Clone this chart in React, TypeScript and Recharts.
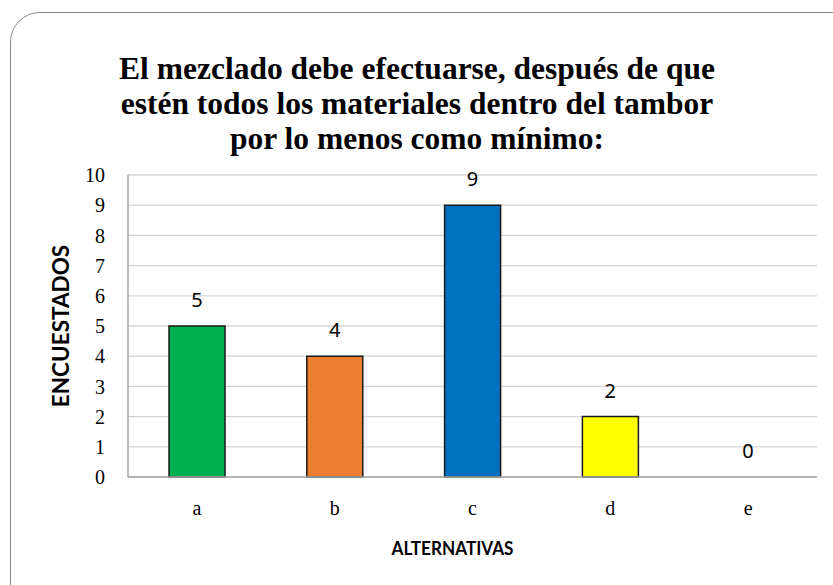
import React from "react";
import { ComposedChart, Bar, Line, XAxis, YAxis, CartesianGrid, Cell, LabelList } from "recharts";

const categories = ["a", "b", "c", "d", "e"];
const values = [5, 4, 9, 2, 0];
const colors = ["#00B050", "#ED7D31", "#0070C0", "#FFFF00", "#A5A5A5"];
const yTicks = [0, 1, 2, 3, 4, 5, 6, 7, 8, 9, 10];
const titleLines = [
  "El mezclado debe efectuarse, después de que",
  "estén todos los materiales dentro del tambor",
  "por lo menos como mínimo:",
];
const xTitle = "ALTERNATIVAS";
const yTitle = "ENCUESTADOS";

const data = categories.map((c, i) => ({ name: c, value: values[i] }));

function XTitle(props: any) {
  const vb = props.viewBox || { x: 128, y: 477, width: 689, height: 108 };
  const cx = vb.x + vb.width / 2 - 20;
  const cy = vb.y + vb.height - 30;
  return (
    <text
      x={cx}
      y={cy}
      textAnchor="middle"
      textLength={122}
      lengthAdjust="spacingAndGlyphs"
      fill="#000"
      fontSize={19.5}
      fontWeight="bold"
      fontFamily="Lato, sans-serif"
    >
      {xTitle}
    </text>
  );
}

export default function App() {
  return (
    <div style={{ position: "fixed", left: 0, top: 0, width: 833, height: 585, overflow: "hidden", background: "#fff" }}>
      <div
        style={{
          position: "absolute",
          left: 10,
          top: 12,
          width: 860,
          height: 620,
          border: "1.5px solid #8a8a8a",
          borderRadius: 30,
          boxSizing: "border-box",
        }}
      />
      <div
        style={{
          position: "absolute",
          left: 0,
          top: 51,
          width: 834,
          textAlign: "center",
          fontFamily: "'Liberation Serif', 'Times New Roman', serif",
          fontWeight: 700,
          fontSize: 31.5,
          lineHeight: "35px",
          color: "#000",
        }}
      >
        {titleLines.map((l, i) => (
          <div key={i}>{l}</div>
        ))}
      </div>
      <div style={{ position: "absolute", left: 0, top: 0 }}>
        <ComposedChart
          width={833}
          height={585}
          data={data}
          margin={{ top: 175, right: 16, bottom: 0, left: 68 }}
          barCategoryGap="29.5%"
        >
          <CartesianGrid vertical={false} stroke="#d4d4d4" strokeWidth={1.3} />
          <XAxis
            dataKey="name"
            height={108}
            tickLine={false}
            tickSize={0}
            tickMargin={24}
            axisLine={{ stroke: "#a6a6a6", strokeWidth: 1.5 }}
            tick={{ fill: "#000", fontSize: 20, fontFamily: "'Liberation Serif', serif" }}
            label={<XTitle />}
          />
          <YAxis
            width={60}
            domain={[0, 10]}
            ticks={yTicks}
            interval={0}
            tickLine={false}
            tickSize={0}
            tickMargin={23}
            axisLine={{ stroke: "#a6a6a6", strokeWidth: 1.5 }}
            tick={{ fill: "#000", fontSize: 20, fontFamily: "'Liberation Serif', serif" }}
            label={{
              value: yTitle,
              angle: -90,
              position: "insideLeft",
              dx: -12,
              style: { textAnchor: "middle", fill: "#000", fontSize: 22.5, fontWeight: "bold", fontFamily: "Lato, sans-serif" },
            }}
          />
          <Bar dataKey="value" isAnimationActive={false} stroke="#1a1a1a" strokeWidth={1.5} barSize={56}>
            {data.map((d, i) => (
              <Cell key={d.name} fill={colors[i]} />
            ))}
          </Bar>
          <Line
            dataKey="value"
            isAnimationActive={false}
            stroke="none"
            dot={false}
            activeDot={false}
            legendType="none"
          >
            <LabelList
              dataKey="value"
              position="top"
              offset={19}
              style={{ fill: "#000", fontSize: 20, fontFamily: "'Noto Sans', sans-serif" }}
            />
          </Line>
        </ComposedChart>
      </div>
    </div>
  );
}
